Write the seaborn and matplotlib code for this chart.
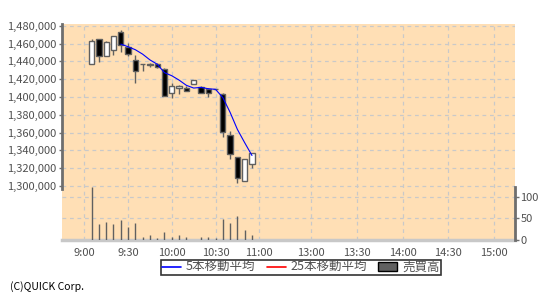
import matplotlib
matplotlib.use("Agg")
import matplotlib.pyplot as plt
from matplotlib.lines import Line2D
from matplotlib.patches import Patch
import seaborn as sns
import numpy as np
import pandas as pd

# ---- data (5-minute bars, 9:05 .. 10:55) ----
bar_slot = list(range(1, 24))
opens  = [1437000, 1465000, 1446000, 1452400, 1472700, 1456200, 1441200, 1436500, 1436000, 1437000,
          1431000, 1404100, 1409800, 1410100, 1414200, 1411200, 1409000, 1408600, 1403800, 1357000,
          1332200, 1305200, 1324700]
highs  = [1465000, 1465000, 1462500, 1468200, 1475300, 1461000, 1447200, 1437500, 1438000, 1438000,
          1432200, 1415400, 1413000, 1412700, 1418700, 1412000, 1409700, 1409500, 1404500, 1361800,
          1332200, 1330600, 1336700]
lows   = [1437000, 1439000, 1446000, 1446800, 1450900, 1446400, 1416100, 1429200, 1434000, 1433000,
          1400800, 1399300, 1403700, 1406700, 1414200, 1404500, 1400400, 1407500, 1354700, 1330000,
          1303700, 1305200, 1319900]
closes = [1463000, 1446000, 1461400, 1468200, 1458400, 1448300, 1429200, 1436500, 1436000, 1434000,
          1400800, 1412000, 1412000, 1406700, 1418700, 1404500, 1404500, 1408600, 1360400, 1335600,
          1308600, 1329900, 1336700]
volumes = [123, 38, 41, 38, 47, 30, 39, 7, 11, 5, 18, 7, 11, 7, 1, 7, 7, 5, 48, 39, 56, 23, 11]

time_labels = ["9:00", "9:30", "10:00", "10:30", "11:00", "13:00", "13:30", "14:00", "14:30", "15:00"]
time_slots  = [0, 6, 12, 18, 24, 31.1, 37.45, 43.68, 49.93, 56.16]
price_ticks = [1300000, 1320000, 1340000, 1360000, 1380000, 1400000, 1420000, 1440000, 1460000, 1480000]
vol_ticks = [0, 50, 100]
legend_labels = ["5本移動平均", "25本移動平均", "売買高"]

# ---- style ----
sns.set_style("white")
plt.rcParams['font.family'] = ['Noto Sans CJK JP', 'DejaVu Sans']
BG = "#FFDFB5"
GRID = "#C9C9C9"
TXT = "#505050"
SPINE = "#6E6E6E"

fig = plt.figure(figsize=(5.5, 3.0), dpi=100)
ax = fig.add_axes([62/550, 1 - 240/300, (515-62)/550, 216/300])
ax.set_facecolor(BG)
ax2 = ax.twinx()

df = pd.DataFrame({"slot": bar_slot, "open": opens, "high": highs, "low": lows,
                   "close": closes, "volume": volumes})
df["ma5"] = df["close"].rolling(5).mean()

# grid lines
for t in time_slots:
    ax.axvline(t, color=GRID, lw=0.9, ls=(0, (3, 3)), zorder=0)
for p in price_ticks:
    ax.axhline(p, color=GRID, lw=0.9, ls=(0, (3, 3)), zorder=0)
for v in vol_ticks[1:]:
    ax2.axhline(v, color=GRID, lw=0.9, ls=(0, (3, 3)), zorder=0)

# volume bars
ax2.vlines(df["slot"], 0, df["volume"], color="#606060", lw=1.0, zorder=2)

# candles
up = df["close"] >= df["open"]
ax.vlines(df["slot"], df["low"], df["high"], color="#606060", lw=1.0, zorder=3)
body_h = (df["close"] - df["open"]).abs().clip(lower=600)
body_b = df[["open", "close"]].min(axis=1)
ax.bar(df["slot"][up], body_h[up], bottom=body_b[up], width=0.72, color="white",
       edgecolor="#606060", linewidth=1.0, zorder=4)
ax.bar(df["slot"][~up], body_h[~up], bottom=body_b[~up], width=0.72, color="black",
       edgecolor="#606060", linewidth=1.0, zorder=4)

# moving average
sns.lineplot(data=df.dropna(), x="slot", y="ma5", ax=ax, color="#0000FF", lw=0.8,
             zorder=5, legend=False)

# axes limits
ax.set_xlim(-3.06, 59.08)
ax.set_ylim(1239300, 1482000)
ax2.set_ylim(0, 499)

# ticks
ax.set_xticks(time_slots)
ax.set_xticklabels(time_labels)
ax.set_yticks(price_ticks)
ax.set_yticklabels([f"{p:,}" for p in price_ticks])
ax2.set_yticks(vol_ticks)
ax2.set_yticklabels([str(v) for v in vol_ticks])
ax.set_xlabel("")
ax.set_ylabel("")
ax2.set_ylabel("")

ax.tick_params(axis="x", colors=GRID, labelcolor=TXT, labelsize=8, length=4, width=1, pad=2)
ax.tick_params(axis="y", colors=SPINE, labelcolor=TXT, labelsize=8, length=2, width=1, pad=2, left=True)
ax2.tick_params(axis="y", colors=SPINE, labelcolor=TXT, labelsize=8, length=3, width=1, pad=1, right=True)

# spines
for a in (ax, ax2):
    for s in a.spines.values():
        s.set_visible(False)
ax.spines["left"].set_visible(True)
ax.spines["left"].set_color(SPINE)
ax.spines["left"].set_linewidth(2)
ax.spines["left"].set_bounds(1297000, 1482000)
ax2.spines["right"].set_visible(True)
ax2.spines["right"].set_color(SPINE)
ax2.spines["right"].set_linewidth(2)
ax2.spines["right"].set_bounds(0, 122)
ax.spines["bottom"].set_visible(True)
ax.spines["bottom"].set_color("#C8C8C8")
ax.spines["bottom"].set_linewidth(2.5)

# legend
handles = [Line2D([], [], color="#0000FF", lw=1.2),
           Line2D([], [], color="#FF0000", lw=1.2),
           Patch(facecolor="#606060", edgecolor="black", linewidth=1)]
leg = fig.legend(handles, legend_labels, loc="center", bbox_to_anchor=(301/550, 1 - 267.5/300),
                 ncol=3, frameon=True, fancybox=False, fontsize=9, handlelength=1.5,
                 handletextpad=0.4, columnspacing=0.9, borderpad=0.1, labelcolor=TXT)
leg.get_frame().set_edgecolor("black")
leg.get_frame().set_linewidth(1.2)

fig.text(10/550, 1 - 287/300, "(C)QUICK Corp.", fontsize=7.5, color="black", va="center", ha="left")

fig.savefig("out.png", dpi=100, facecolor="white")
